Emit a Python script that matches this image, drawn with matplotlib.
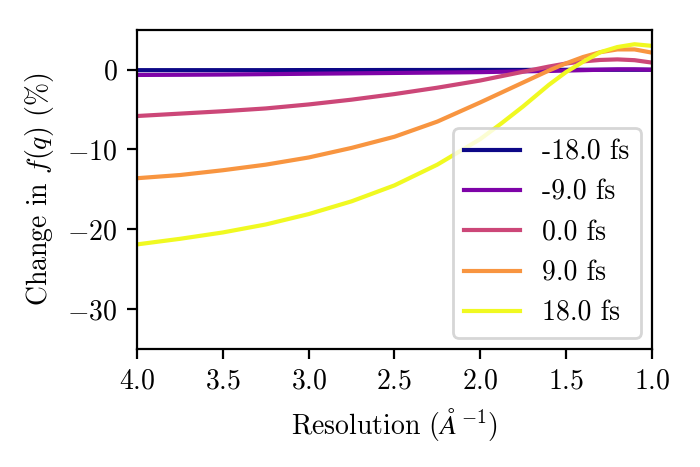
import numpy as np
import matplotlib
matplotlib.use("Agg")
import matplotlib.pyplot as plt

plt.rcParams["font.family"] = "serif"
plt.rcParams["font.serif"] = ["cmr10"]
plt.rcParams["mathtext.fontset"] = "cm"
plt.rcParams["axes.formatter.use_mathtext"] = True
plt.rcParams["font.size"] = 10

resolution = [4.0, 3.75, 3.5, 3.25, 3.0, 2.75, 2.5, 2.25, 2.0,
              1.875, 1.75, 1.6, 1.5, 1.4, 1.3, 1.2, 1.1, 1.0]

delays = ["-18.0 fs", "-9.0 fs", "0.0 fs", "9.0 fs", "18.0 fs"]

change_m18 = [-0.05, -0.05, -0.05, -0.05, -0.04, -0.04, -0.03, -0.03, -0.02,
              -0.02, -0.02, -0.01, -0.01, 0.0, 0.0, 0.0, 0.0, 0.0]
change_m9 = [-0.65, -0.63, -0.6, -0.55, -0.5, -0.45, -0.4, -0.35, -0.3,
             -0.25, -0.2, -0.15, -0.1, -0.05, 0.0, 0.05, 0.05, 0.0]
change_0 = [-5.8, -5.5, -5.2, -4.85, -4.35, -3.75, -3.05, -2.25, -1.35,
            -0.8, -0.25, 0.4, 0.78, 1.05, 1.23, 1.3, 1.2, 0.9]
change_9 = [-13.6, -13.2, -12.6, -11.9, -11.0, -9.8, -8.4, -6.5, -4.1,
            -2.85, -1.6, -0.1, 0.8, 1.6, 2.2, 2.55, 2.55, 2.15]
change_18 = [-21.9, -21.2, -20.4, -19.4, -18.1, -16.5, -14.5, -11.9, -8.7,
             -6.7, -4.6, -1.9, -0.3, 1.0, 2.2, 2.85, 3.2, 3.0]

series = [change_m18, change_m9, change_0, change_9, change_18]
colors = plt.cm.plasma(np.linspace(0, 1, len(series)))

fig, ax = plt.subplots(figsize=(3.5, 2.335), dpi=200)
fig.subplots_adjust(left=0.196, right=0.931, bottom=0.253, top=0.936)

for vals, label, c in zip(series, delays, colors):
    ax.plot(resolution, vals, color=c, lw=1.5, label=label)

ax.set_xlim(4.0, 1.0)
ax.set_ylim(-35, 5)
ax.set_yticks([0, -10, -20, -30])
ax.set_xlabel(r"Resolution ($\AA^{-1}$)")
ax.set_ylabel(r"Change in $f(q)$ (%)")
ax.legend(loc="lower right", borderaxespad=0.4)

fig.savefig("out.png", dpi=200)
